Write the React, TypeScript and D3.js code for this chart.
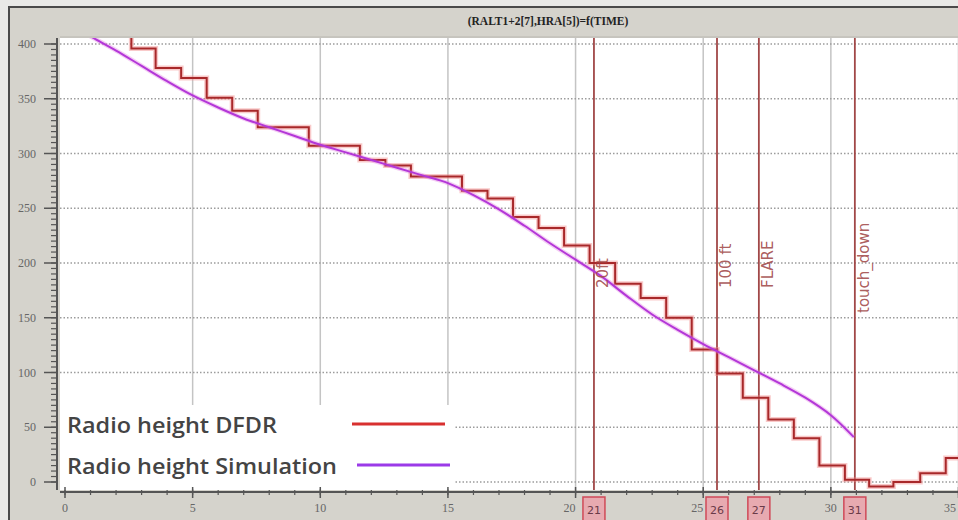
import React from "react";
import * as d3 from "d3";

const titleText = "(RALT1+2[7],HRA[5])=f(TIME)";

// Simulation radio height (smooth)
const simTime = [0.5, 1, 2, 3, 4, 5, 6, 7, 8, 9, 10, 11, 12, 13, 14, 15, 16, 17, 18, 19, 20, 21, 22, 23, 24, 25, 26, 27, 28, 29, 30, 30.9];
const simHeight = [414, 407, 394, 380, 366, 353, 342, 332, 324, 316, 308, 301, 294, 287, 280, 273, 262, 249, 234, 218, 203, 188, 170, 153, 139, 126, 114, 102, 90, 77, 61, 41];

// DFDR radio height (1 Hz steps)
const dfdrTime = [1.55, 2.6, 3.55, 4.55, 5.55, 6.55, 7.55, 9.55, 11.55, 12.55, 13.55, 15.55, 16.55, 17.55, 18.55, 19.55, 20.55, 21.55, 22.55, 23.55, 24.55, 25.55, 26.55, 27.55, 28.55, 29.55, 30.55, 31.5, 32.45, 33.5, 34.5, 35.5];
const dfdrHeight = [415, 396, 378, 369, 351, 339, 324, 307, 294, 289, 279, 266, 259, 242, 232, 216, 200, 181, 168, 150, 121, 99, 77, 57, 40, 15, 2, -4, 0, 8, 22, 22];

// Event markers
const markerTime = [20.72, 25.54, 27.18, 30.94];
const markerName = ["20ft", "100 ft", "FLARE", "touch_down"];
const markerBox = ["21", "26", "27", "31"];

const xTickLabels = ["0", "5", "10", "15", "20", "25", "30", "35"];
const yTickLabels = ["0", "50", "100", "150", "200", "250", "300", "350", "400"];

const legendLabels = ["Radio height DFDR", "Radio height Simulation"];

export default function App() {
  const W = 958, H = 520;
  const plotL = 60, plotR = 958, plotT = 38, plotB = 490;
  const x = d3.scaleLinear().domain([0, 35]).range([65, 958.5]);
  const y = d3.scaleLinear().domain([0, 400]).range([482, 44]);

  const simPts: [number, number][] = simTime.map((t, i) => [t, simHeight[i]]);
  const dfdrPts: [number, number][] = dfdrTime.map((t, i) => [t, dfdrHeight[i]]);

  const simLine = d3.line<[number, number]>().x(d => x(d[0])).y(d => y(d[1])).curve(d3.curveCatmullRom.alpha(0.5))(simPts) || "";
  const dfdrLine = d3.line<[number, number]>().x(d => x(d[0])).y(d => y(d[1])).curve(d3.curveStepAfter)(dfdrPts) || "";

  const xMinor = d3.range(0, 36, 1);
  const xMajor = xTickLabels.map(s => +s);
  const yMinor = d3.range(0, 401, 5);
  const yMajor = yTickLabels.map(s => +s);

  const axisColor = "#555";
  const markerColor = "#a14848";

  return (
    <svg width={W} height={H} style={{ position: "absolute", left: 0, top: 0, display: "block" }}>
      <defs>
        <clipPath id="plotClip">
          <rect x={plotL} y={plotT} width={plotR - plotL} height={plotB - plotT} />
        </clipPath>
      </defs>
      <rect x={0} y={0} width={W} height={H} fill="#e9e9e7" />
      <rect x={9} y={7} width={W} height={H} fill="#d5d3cc" stroke="#4a4a4a" strokeWidth={2} />
      <text x={548} y={25} textAnchor="middle" fontFamily="Liberation Serif, serif" fontWeight="bold" fontSize={11.5} fill="#222">{titleText}</text>
      <line x1={plotL} x2={plotR} y1={plotT - 1} y2={plotT - 1} stroke="#b8b6b0" strokeWidth={1} />

      {/* plot background */}
      <rect x={plotL} y={plotT} width={plotR - plotL} height={plotB - plotT} fill="#ffffff" />

      <g clipPath="url(#plotClip)">
        {/* vertical grid */}
        {xMajor.filter(v => v > 0).map(v => (
          <line key={"vg" + v} x1={x(v)} x2={x(v)} y1={plotT} y2={plotB} stroke="#c4c4c4" strokeWidth={1.5} />
        ))}
        {/* horizontal dotted grid */}
        {yMajor.map(v => (
          <line key={"hg" + v} x1={plotL} x2={plotR} y1={y(v)} y2={y(v)} stroke="#9c9c9c" strokeWidth={1.3} strokeDasharray="1.5,2" />
        ))}
        {/* markers */}
        {markerTime.map((t, i) => (
          <line key={"m" + i} x1={x(t)} x2={x(t)} y1={plotT} y2={plotB} stroke={markerColor} strokeWidth={1.8} />
        ))}
        {/* series */}
        <path d={dfdrLine} fill="none" stroke="#f28a8a" strokeOpacity={0.45} strokeWidth={5} />
        <path d={dfdrLine} fill="none" stroke="#a8282a" strokeWidth={2} />
        <path d={simLine} fill="none" stroke="#e070e0" strokeOpacity={0.35} strokeWidth={4.5} />
        <path d={simLine} fill="none" stroke="#b337d8" strokeWidth={2} />
        {/* marker labels */}
        {markerTime.map((t, i) => {
          const bx = x(t) + 14;
          const by = markerName[i] === "touch_down" ? 313 : 288;
          return (
            <text key={"ml" + i} transform={`translate(${bx},${by}) rotate(-90)`} fontFamily="DejaVu Sans, sans-serif" fontSize={15} fill="#a24a4a" fillOpacity={0.9}>{markerName[i]}</text>
          );
        })}
      </g>

      {/* legend */}
      <rect x={60} y={405} width={395} height={84} fill="#ffffff" />
      <text x={67} y={433} fontFamily="Open Sans, sans-serif" fontSize={21} fontWeight={600} fill="#444" textLength={210} lengthAdjust="spacingAndGlyphs">{legendLabels[0]}</text>
      <text x={67} y={474} fontFamily="Open Sans, sans-serif" fontSize={21} fontWeight={600} fill="#444" textLength={270} lengthAdjust="spacingAndGlyphs">{legendLabels[1]}</text>
      <line x1={352} x2={445} y1={424} y2={424} stroke="#d8302f" strokeWidth={3} />
      <line x1={357} x2={450} y1={465} y2={465} stroke="#9b3ae8" strokeWidth={3} />

      {/* y axis */}
      <line x1={57} x2={57} y1={plotT} y2={plotB} stroke={axisColor} strokeWidth={2} />
      {yMinor.map(v => (
        <line key={"ym" + v} x1={51} x2={57} y1={y(v)} y2={y(v)} stroke={axisColor} strokeWidth={1.2} />
      ))}
      {yMajor.map((v, i) => (
        <g key={"yM" + v}>
          <line x1={44} x2={57} y1={y(v)} y2={y(v)} stroke={axisColor} strokeWidth={1.5} />
          <text x={36} y={y(v) + 4} textAnchor="end" fontFamily="Liberation Serif, serif" fontSize={12} fill="#666">{yTickLabels[i]}</text>
        </g>
      ))}

      {/* x axis */}
      <line x1={plotL} x2={plotR} y1={492} y2={492} stroke={axisColor} strokeWidth={2} />
      {xMinor.map(v => (
        <line key={"xm" + v} x1={x(v)} x2={x(v)} y1={490} y2={495} stroke={axisColor} strokeWidth={1.2} />
      ))}
      {xMajor.map((v, i) => (
        <g key={"xM" + v}>
          <line x1={x(v)} x2={x(v)} y1={487} y2={498} stroke={axisColor} strokeWidth={1.5} />
          <text x={v === 35 ? 956 : x(v) - (v === 20 || v === 25 ? 6 : 0)} y={512} textAnchor={v === 35 ? "end" : "middle"} fontFamily="Liberation Serif, serif" fontSize={12} fill="#666">{xTickLabels[i]}</text>
        </g>
      ))}

      {/* marker boxes */}
      {markerTime.map((t, i) => (
        <g key={"mb" + i}>
          <rect x={x(t) - 11} y={497} width={22} height={26} fill="#e7aab0" stroke="#d04a58" strokeWidth={1.5} />
          <text x={x(t)} y={514} textAnchor="middle" fontFamily="DejaVu Sans, sans-serif" fontSize={11} fill="#6a3a48">{markerBox[i]}</text>
        </g>
      ))}
    </svg>
  );
}
